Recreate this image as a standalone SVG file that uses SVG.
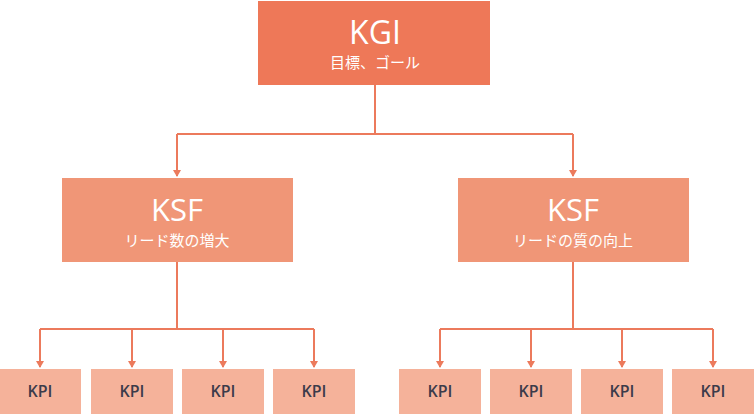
<svg xmlns="http://www.w3.org/2000/svg" width="755" height="414" viewBox="0 0 755 414">
<style>
.l{stroke:#ec7a5c;stroke-width:2;fill:none}
.t{font-family:"Open Sans","Noto Sans CJK JP",sans-serif;fill:#fff;text-anchor:middle}
.k{font-family:"Open Sans",sans-serif;fill:#3b3b4a;text-anchor:middle;font-size:16px;font-weight:600}
.kpi{fill:#f5b29a}
.ksf{fill:#f09677}
</style>
<defs><marker id="a" markerWidth="8" markerHeight="8" refX="6" refY="4" orient="auto" markerUnits="userSpaceOnUse"><path d="M0,0L7,4L0,8z" fill="#ec7a5c"/></marker></defs>
<rect width="755" height="414" fill="#fff"/>
<g id="connectors">
<path class="l" d="M375,85V134M177,134H573"/>
<path class="l" d="M177,134V176" marker-end="url(#a)"/>
<path class="l" d="M573,134V176" marker-end="url(#a)"/>
<path class="l" d="M177,262V329M40,329H314M573,262V329M440,329H713"/>
<path class="l" d="M40,329V367" marker-end="url(#a)"/>
<path class="l" d="M132,329V367" marker-end="url(#a)"/>
<path class="l" d="M223,329V367" marker-end="url(#a)"/>
<path class="l" d="M314,329V367" marker-end="url(#a)"/>
<path class="l" d="M440,329V367" marker-end="url(#a)"/>
<path class="l" d="M531,329V367" marker-end="url(#a)"/>
<path class="l" d="M622,329V367" marker-end="url(#a)"/>
<path class="l" d="M713,329V367" marker-end="url(#a)"/>
</g>
<g id="kgi"><rect x="258" y="1" width="232" height="84" fill="#ee7858"/>
<text class="t" x="375" y="44" font-size="32">KGI</text>
<text class="t" x="375" y="68" font-size="15">目標、ゴール</text></g>
<g id="ksf1"><rect class="ksf" x="62" y="178" width="231" height="84"/>
<text class="t" x="177" y="221" font-size="31">KSF</text>
<text class="t" x="177" y="246" font-size="15">リード数の増大</text></g>
<g id="ksf2"><rect class="ksf" x="458" y="178" width="231" height="84"/>
<text class="t" x="573" y="221" font-size="31">KSF</text>
<text class="t" x="573" y="246" font-size="15">リードの質の向上</text></g>
<g id="kpi1"><rect class="kpi" x="0" y="369" width="81" height="45"/><text class="k" x="40" y="397">KPI</text></g>
<g id="kpi2"><rect class="kpi" x="91" y="369" width="82" height="45"/><text class="k" x="132" y="397">KPI</text></g>
<g id="kpi3"><rect class="kpi" x="182" y="369" width="82" height="45"/><text class="k" x="223" y="397">KPI</text></g>
<g id="kpi4"><rect class="kpi" x="273" y="369" width="82" height="45"/><text class="k" x="314" y="397">KPI</text></g>
<g id="kpi5"><rect class="kpi" x="399" y="369" width="82" height="45"/><text class="k" x="440" y="397">KPI</text></g>
<g id="kpi6"><rect class="kpi" x="490" y="369" width="82" height="45"/><text class="k" x="531" y="397">KPI</text></g>
<g id="kpi7"><rect class="kpi" x="581" y="369" width="82" height="45"/><text class="k" x="622" y="397">KPI</text></g>
<g id="kpi8"><rect class="kpi" x="672" y="369" width="82" height="45"/><text class="k" x="713" y="397">KPI</text></g>
</svg>
